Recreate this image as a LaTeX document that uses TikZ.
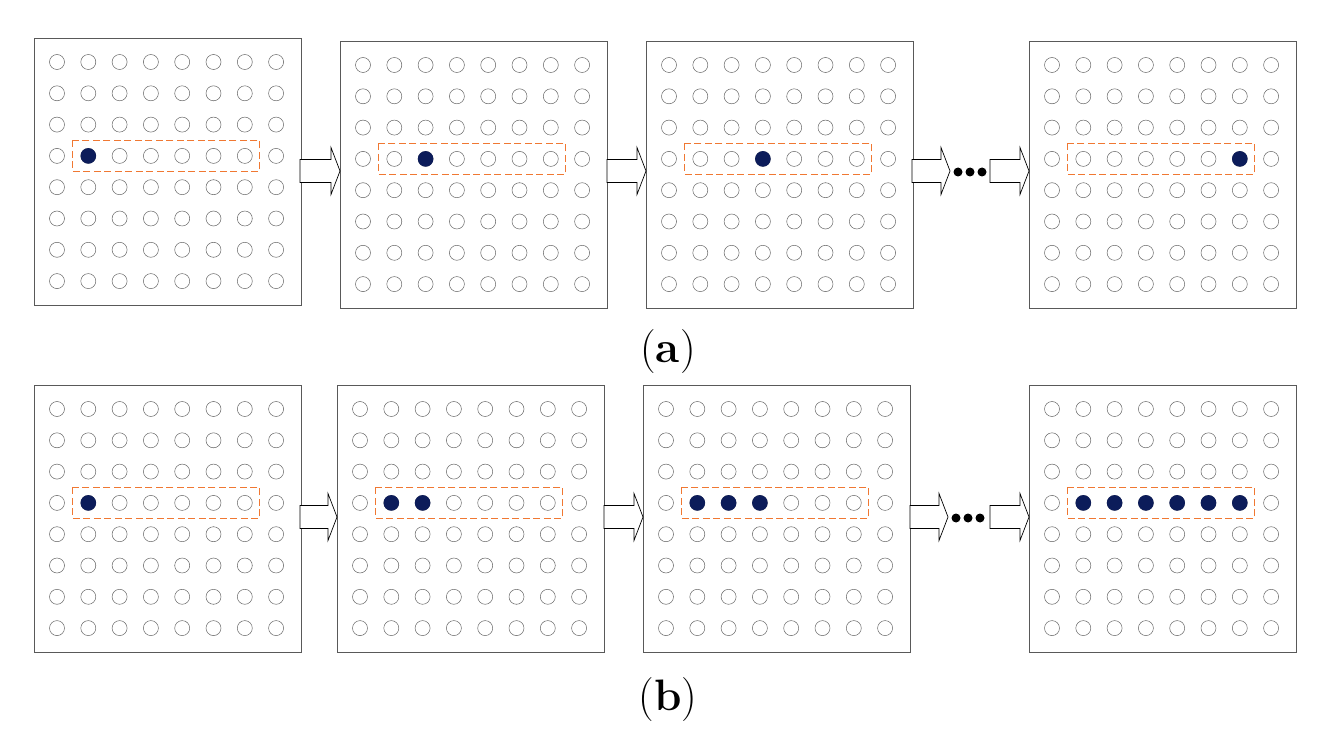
\documentclass[tikz,border=0pt]{standalone}
\definecolor{hlc}{RGB}{240,120,50}
\definecolor{navy}{RGB}{12,28,90}
\begin{document}
\begin{tikzpicture}[x=1pt,y=-1pt,
  panel/.style={draw=black!65,line width=0.8pt},
  dot/.style={draw=black!60,line width=0.5pt},
  fdot/.style={fill=navy,draw=none},
  hl/.style={draw=hlc,dash pattern=on 7pt off 3.5pt,line width=1.3pt},
  barrow/.style={draw=black,fill=white,line width=0.7pt},
  lab/.style={font=\fontsize{44}{48}\selectfont}]
\useasboundingbox (0,0) rectangle (1336,738);
\newcommand{\mypanel}[4]{% name, left, top, filled list
  \node[panel,minimum width=267pt,minimum height=267pt,inner sep=0pt,anchor=north west] (#1) at (#2,#3) {};
  \foreach \i in {0,...,7}{\foreach \j in {0,...,7}{
    \draw[dot] ({#2+23+31.3*\i},{#3+24+31.3*\j}) circle (7.5pt);}}
  \draw[hl] ({#2+23+31.3-16},{#3+24+31.3*3-15.5}) rectangle ({#2+23+31.3*6+15},{#3+24+31.3*3+15.5});
  \foreach \i in {#4}{\fill[fdot] ({#2+23+31.3*\i},{#3+24+31.3*3}) circle (7.8pt);}
}
\newcommand{\myarrow}[3]{% x1 x2 ycenter
  \draw[barrow] (#1,#3-11.5) -- ({#2-9},#3-11.5) -- ({#2-9},#3-23.5) -- (#2,#3) -- ({#2-9},#3+23.5) -- ({#2-9},#3+11.5) -- (#1,#3+11.5) -- cycle;}
% row a
\mypanel{a1}{34}{38}{1}
\mypanel{a2}{340}{41}{2}
\mypanel{a3}{646}{41}{3}
\mypanel{a4}{1029}{41}{6}
\myarrow{300}{340}{171}
\myarrow{607}{646}{171}
\myarrow{912}{950}{171}
\myarrow{990}{1029}{171}
\foreach \x in {958,970,982}{\fill (\x,172) circle (4.5pt);}
\node[lab] (la) at (668,352) {(\textbf{a})};
% row b
\mypanel{b1}{34}{385}{1}
\mypanel{b2}{337}{385}{1,2}
\mypanel{b3}{643}{385}{1,2,3}
\mypanel{b4}{1029}{385}{1,2,3,4,5,6}
\myarrow{300}{337}{517}
\myarrow{604}{643}{517}
\myarrow{910}{948}{517}
\myarrow{990}{1029}{517}
\foreach \x in {956,968,980}{\fill (\x,518) circle (4.5pt);}
\node[lab] (lb) at (668,700) {(\textbf{b})};
\end{tikzpicture}
\end{document}
